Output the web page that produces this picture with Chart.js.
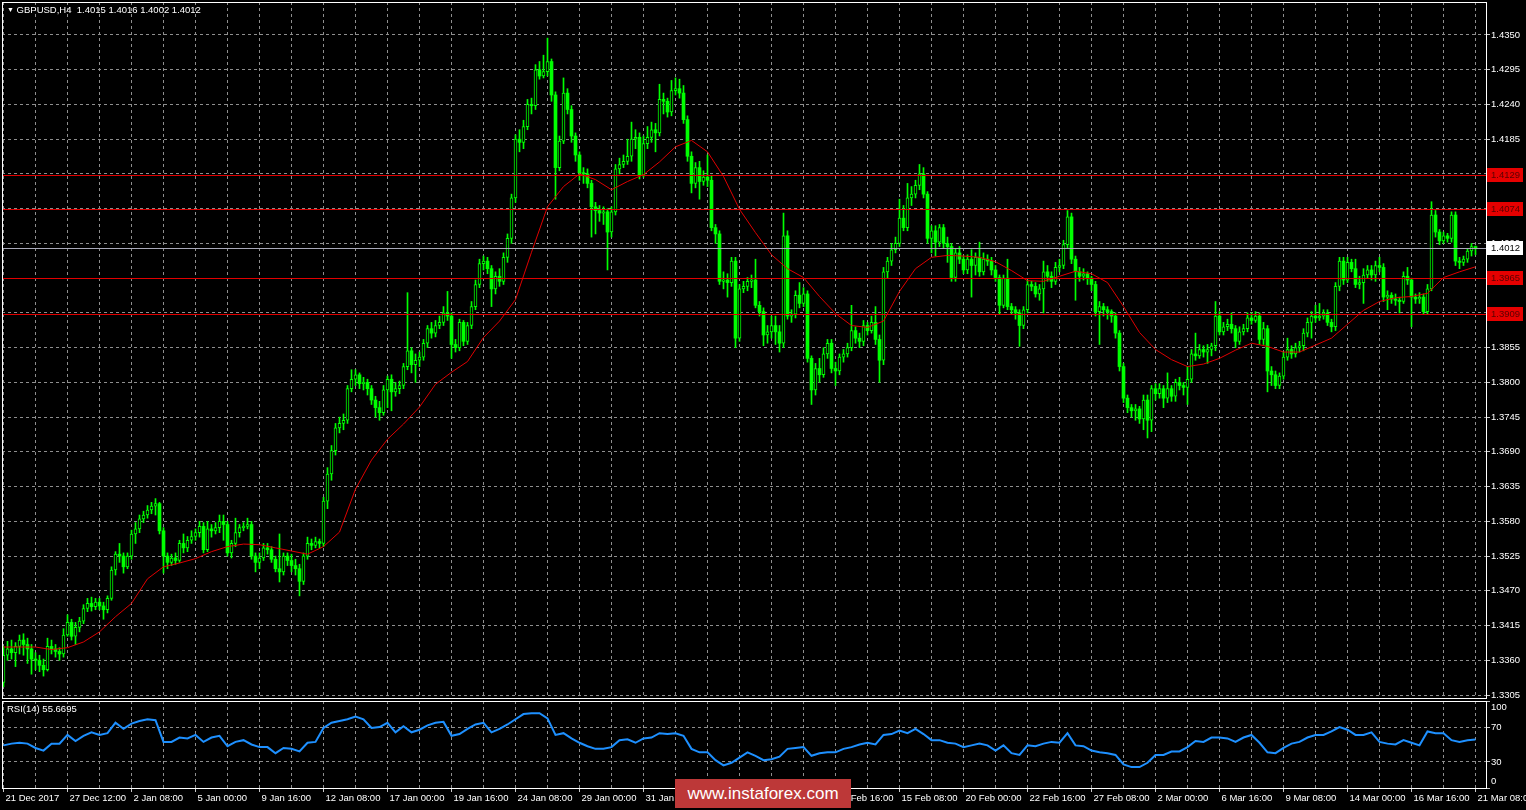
<!DOCTYPE html>
<html><head><meta charset="utf-8">
<script src="https://cdn.jsdelivr.net/npm/chart.js@4.4.1/dist/chart.umd.min.js"></script>
<style>
html,body{margin:0;padding:0;background:#000;width:1526px;height:810px;overflow:hidden;}
canvas{position:absolute;left:0;}
#main{top:0;}
#rsi{top:700px;}
.t{position:absolute;color:#fff;white-space:pre;}
#wm{position:absolute;left:675px;top:779px;width:176px;height:29px;background:#bd3838;color:#fff;font:17px "Liberation Sans",Arial,sans-serif;text-align:center;line-height:29px;}
</style></head><body>
<canvas id="main" width="1526" height="700"></canvas>
<canvas id="rsi" width="1526" height="110"></canvas>
<div class="t" id="title" style="left:7px;top:4px;"></div>
<div class="t" id="rsiTitle" style="left:7px;top:703px;"></div>
<div id="wm">www.instaforex.com</div>
<script>
// ---------- data ----------
const symbolTitle = "GBPUSD,H4";
const lastOHLC = [1.4015, 1.4016, 1.4002, 1.4012];
const rsiTitle = "RSI(14) 55.6695";
const timeLabels = ["21 Dec 2017","27 Dec 12:00","2 Jan 08:00","5 Jan 00:00","9 Jan 16:00","12 Jan 08:00","17 Jan 00:00","19 Jan 16:00","24 Jan 08:00","29 Jan 00:00","31 Jan 16:00","5 Feb 08:00","8 Feb 00:00","12 Feb 16:00","15 Feb 08:00","20 Feb 00:00","22 Feb 16:00","27 Feb 08:00","2 Mar 00:00","6 Mar 16:00","9 Mar 08:00","14 Mar 00:00","16 Mar 16:00","21 Mar 08:00"];
const priceTicks = [1.4350,1.4295,1.4240,1.4185,1.4130,1.4075,1.4020,1.3965,1.3910,1.3855,1.3800,1.3745,1.3690,1.3635,1.3580,1.3525,1.3470,1.3415,1.3360,1.3305];
const levels = [1.4129, 1.4074, 1.3965, 1.3909];
const currentPrice = 1.4012;
const rsiLevels = [0, 30, 70, 100];

const opens = [
1.3325,1.3368,1.3378,1.3372,1.3382,1.3392,1.3385,1.3378,1.3362,1.3360,1.3352,1.3345,1.3382,1.3378,1.3374,1.3370,
1.3400,1.3420,1.3398,1.3412,1.3422,1.3442,1.3450,1.3445,1.3452,1.3446,1.3440,1.3458,1.3503,1.3528,1.3525,1.3508,
1.3525,1.3560,1.3568,1.3584,1.3590,1.3598,1.3604,1.3608,1.3565,1.3525,1.3515,1.3522,1.3518,1.3545,1.3538,1.3550,
1.3556,1.3562,1.3572,1.3535,1.3568,1.3565,1.3570,1.3580,1.3575,1.3530,1.3545,1.3562,1.3570,1.3572,1.3575,1.3525,
1.3515,1.3522,1.3538,1.3535,1.3520,1.3505,1.3500,1.3525,1.3518,1.3510,1.3505,1.3485,1.3525,1.3545,1.3542,1.3548,
1.3545,1.3612,1.3655,1.3692,1.3728,1.3735,1.3740,1.3790,1.3805,1.3812,1.3798,1.3800,1.3790,1.3772,1.3760,1.3752,
1.3788,1.3805,1.3785,1.3790,1.3795,1.3825,1.3850,1.3828,1.3835,1.3840,1.3862,1.3885,1.3878,1.3890,1.3895,1.3910,
1.3905,1.3860,1.3855,1.3895,1.3865,1.3890,1.3920,1.3955,1.3988,1.3992,1.3980,1.3948,1.3968,1.3960,1.3998,1.4028,
1.4092,1.4185,1.4180,1.4205,1.4240,1.4238,1.4295,1.4285,1.4292,1.4308,1.4255,1.4140,1.4182,1.4258,1.4232,1.4190,
1.4160,1.4132,1.4130,1.4115,1.4078,1.4072,1.4068,1.4070,1.4038,1.4070,1.4138,1.4145,1.4150,1.4158,1.4185,1.4188,
1.4128,1.4178,1.4188,1.4200,1.4195,1.4248,1.4245,1.4228,1.4262,1.4265,1.4258,1.4216,1.4158,1.4115,1.4140,1.4118,
1.4125,1.4120,1.4045,1.4035,1.3960,1.3962,1.3958,1.3992,1.3870,1.3948,1.3952,1.3960,1.3962,1.3922,1.3912,1.3875,
1.3880,1.3890,1.3880,1.3862,1.4032,1.3905,1.3908,1.3938,1.3925,1.3940,1.3838,1.3788,1.3822,1.3812,1.3845,1.3862,
1.3822,1.3818,1.3840,1.3845,1.3855,1.3882,1.3870,1.3865,1.3890,1.3882,1.3895,1.3868,1.3835,1.3975,1.3992,1.4010,
1.4020,1.4060,1.4045,1.4092,1.4098,1.4112,1.4130,1.4098,1.4028,1.4040,1.4022,1.4045,1.4020,1.4015,1.3966,1.4005,
1.3995,1.3978,1.3995,1.3985,1.3998,1.3975,1.3995,1.3992,1.3978,1.3966,1.3922,1.3965,1.3920,1.3915,1.3910,1.3890,
1.3915,1.3955,1.3952,1.3940,1.3948,1.3975,1.3968,1.3960,1.3982,1.3985,1.4018,1.4062,1.3995,1.3975,1.3968,1.3972,
1.3965,1.3955,1.3912,1.3920,1.3915,1.3912,1.3905,1.3878,1.3825,1.3775,1.3760,1.3755,1.3758,1.3742,1.3772,1.3740,
1.3790,1.3782,1.3790,1.3775,1.3790,1.3778,1.3800,1.3795,1.3792,1.3805,1.3845,1.3842,1.3852,1.3848,1.3852,1.3858,
1.3905,1.3880,1.3888,1.3892,1.3885,1.3865,1.3880,1.3885,1.3902,1.3898,1.3905,1.3868,1.3885,1.3818,1.3812,1.3795,
1.3810,1.3840,1.3852,1.3845,1.3855,1.3858,1.3878,1.3895,1.3905,1.3902,1.3905,1.3910,1.3895,1.3888,1.3952,1.3992,
1.3962,1.3990,1.3980,1.3955,1.3958,1.3970,1.3978,1.3970,1.3985,1.3982,1.3935,1.3938,1.3932,1.3930,1.3928,1.3968,
1.3962,1.3935,1.3932,1.3935,1.3912,1.3948,1.4065,1.4038,1.4024,1.4032,1.4028,1.4065,1.3992,1.3990,1.3995,1.4008,
1.4015];
const highs = [
1.3382,1.3390,1.3392,1.3388,1.3400,1.3402,1.3395,1.3385,1.3372,1.3368,1.3362,1.3395,1.3392,1.3385,1.3380,1.3410,
1.3432,1.3425,1.3420,1.3428,1.3448,1.3458,1.3460,1.3458,1.3458,1.3452,1.3462,1.3508,1.3532,1.3545,1.3530,1.3530,
1.3566,1.3578,1.3590,1.3596,1.3605,1.3610,1.3616,1.3610,1.3570,1.3530,1.3528,1.3530,1.3550,1.3560,1.3556,1.3565,
1.3568,1.3580,1.3578,1.3580,1.3575,1.3578,1.3590,1.3590,1.3580,1.3550,1.3585,1.3575,1.3578,1.3585,1.3580,1.3530,
1.3530,1.3545,1.3545,1.3540,1.3525,1.3560,1.3530,1.3530,1.3528,1.3520,1.3512,1.3530,1.3555,1.3552,1.3555,1.3552,
1.3618,1.3665,1.3700,1.3735,1.3745,1.3750,1.3795,1.3820,1.3820,1.3815,1.3808,1.3805,1.3795,1.3778,1.3770,1.3795,
1.3810,1.3812,1.3800,1.3802,1.3830,1.3942,1.3855,1.3845,1.3848,1.3868,1.3890,1.3895,1.3898,1.3905,1.3920,1.3944,
1.3910,1.3868,1.3900,1.3898,1.3895,1.3928,1.3962,1.3995,1.4000,1.3998,1.3985,1.3975,1.3980,1.4005,1.4035,1.4098,
1.4192,1.4200,1.4215,1.4248,1.4250,1.4303,1.4308,1.4318,1.4345,1.4312,1.4260,1.4190,1.4282,1.4265,1.4238,1.4195,
1.4165,1.4140,1.4138,1.4120,1.4085,1.4080,1.4078,1.4075,1.4078,1.4145,1.4155,1.4160,1.4185,1.4212,1.4200,1.4195,
1.4190,1.4205,1.4212,1.4210,1.4272,1.4258,1.4250,1.4278,1.4282,1.4280,1.4270,1.4222,1.4165,1.4148,1.4150,1.4135,
1.4160,1.4128,1.4050,1.4040,1.3975,1.3972,1.3998,1.3998,1.3955,1.3960,1.3966,1.3970,1.3995,1.3928,1.3918,1.3890,
1.3905,1.3905,1.3890,1.4068,1.4040,1.3915,1.3945,1.3958,1.3950,1.3945,1.3842,1.3830,1.3838,1.3855,1.3868,1.3868,
1.3832,1.3845,1.3852,1.3862,1.3922,1.3888,1.3878,1.3898,1.3895,1.3905,1.3920,1.3875,1.3982,1.3998,1.4020,1.4030,
1.4090,1.4080,1.4115,1.4110,1.4120,1.4145,1.4140,1.4102,1.4048,1.4048,1.4050,1.4050,1.4030,1.4020,1.4012,1.4015,
1.4000,1.4002,1.4010,1.4005,1.4022,1.4005,1.4002,1.3998,1.3985,1.3970,1.3970,1.3995,1.3925,1.3920,1.3915,1.3920,
1.3962,1.3960,1.3958,1.3955,1.3992,1.3985,1.3975,1.3990,1.3995,1.4025,1.4072,1.4068,1.4000,1.3982,1.3980,1.3975,
1.3968,1.3960,1.3928,1.3925,1.3920,1.3915,1.3910,1.3882,1.3830,1.3780,1.3765,1.3765,1.3762,1.3780,1.3780,1.3795,
1.3798,1.3798,1.3795,1.3815,1.3795,1.3805,1.3808,1.3800,1.3825,1.3852,1.3878,1.3860,1.3858,1.3860,1.3862,1.3928,
1.3912,1.3895,1.3900,1.3910,1.3890,1.3888,1.3892,1.3910,1.3910,1.3912,1.3910,1.3895,1.3890,1.3825,1.3818,1.3815,
1.3848,1.3870,1.3858,1.3862,1.3865,1.3885,1.3902,1.3912,1.3922,1.3925,1.3915,1.3915,1.3900,1.3958,1.3998,1.3998,
1.3998,1.3995,1.3995,1.3968,1.3980,1.3985,1.3985,1.3992,1.3998,1.3988,1.3945,1.3942,1.3940,1.3935,1.3975,1.3982,
1.3965,1.3940,1.3942,1.3940,1.3955,1.4086,1.4072,1.4042,1.4038,1.4036,1.4070,1.4070,1.3998,1.4000,1.4012,1.4020,
1.4016];
const lows = [
1.3318,1.3360,1.3362,1.3350,1.3370,1.3368,1.3355,1.3338,1.3345,1.3342,1.3335,1.3343,1.3370,1.3365,1.3360,1.3365,
1.3398,1.3392,1.3385,1.3405,1.3418,1.3437,1.3438,1.3440,1.3440,1.3425,1.3435,1.3455,1.3495,1.3515,1.3498,1.3505,
1.3520,1.3545,1.3562,1.3578,1.3585,1.3592,1.3590,1.3560,1.3498,1.3505,1.3510,1.3512,1.3515,1.3530,1.3532,1.3545,
1.3550,1.3555,1.3530,1.3532,1.3555,1.3560,1.3562,1.3550,1.3525,1.3522,1.3540,1.3555,1.3565,1.3568,1.3520,1.3500,
1.3505,1.3518,1.3528,1.3515,1.3500,1.3484,1.3495,1.3510,1.3500,1.3495,1.3462,1.3480,1.3520,1.3535,1.3538,1.3538,
1.3540,1.3600,1.3645,1.3685,1.3720,1.3725,1.3735,1.3785,1.3795,1.3790,1.3788,1.3780,1.3765,1.3745,1.3740,1.3748,
1.3760,1.3755,1.3778,1.3782,1.3790,1.3820,1.3815,1.3800,1.3825,1.3835,1.3855,1.3870,1.3872,1.3885,1.3890,1.3898,
1.3838,1.3848,1.3850,1.3858,1.3860,1.3885,1.3915,1.3950,1.3978,1.3972,1.3920,1.3940,1.3952,1.3955,1.3990,1.4020,
1.4085,1.4165,1.4170,1.4200,1.4225,1.4232,1.4280,1.4282,1.4285,1.4245,1.4090,1.4135,1.4178,1.4225,1.4180,1.4150,
1.4120,1.4115,1.4108,1.4030,1.4035,1.4055,1.4050,1.3978,1.4030,1.4065,1.4130,1.4140,1.4145,1.4150,1.4170,1.4122,
1.4125,1.4170,1.4180,1.4165,1.4190,1.4225,1.4220,1.4222,1.4255,1.4250,1.4210,1.4150,1.4100,1.4108,1.4090,1.4112,
1.4110,1.4040,1.4020,1.3955,1.3948,1.3935,1.3952,1.3855,1.3865,1.3942,1.3945,1.3950,1.3918,1.3905,1.3858,1.3862,
1.3870,1.3860,1.3848,1.3855,1.3900,1.3895,1.3902,1.3918,1.3920,1.3832,1.3765,1.3780,1.3800,1.3808,1.3838,1.3815,
1.3795,1.3812,1.3832,1.3840,1.3850,1.3862,1.3855,1.3858,1.3875,1.3878,1.3860,1.3800,1.3828,1.3965,1.3985,1.4005,
1.4015,1.4040,1.4040,1.4080,1.4092,1.4105,1.4092,1.4020,1.4005,1.4000,1.4015,1.4012,1.3990,1.3960,1.3960,1.3988,
1.3972,1.3972,1.3935,1.3970,1.3968,1.3970,1.3985,1.3970,1.3960,1.3908,1.3918,1.3915,1.3908,1.3900,1.3857,1.3885,
1.3910,1.3945,1.3935,1.3930,1.3910,1.3960,1.3950,1.3955,1.3975,1.3980,1.4012,1.3988,1.3930,1.3960,1.3962,1.3955,
1.3945,1.3905,1.3860,1.3905,1.3900,1.3895,1.3870,1.3818,1.3768,1.3752,1.3745,1.3740,1.3735,1.3725,1.3712,1.3722,
1.3772,1.3775,1.3760,1.3768,1.3770,1.3770,1.3788,1.3780,1.3765,1.3800,1.3835,1.3838,1.3840,1.3830,1.3842,1.3850,
1.3875,1.3875,1.3882,1.3878,1.3855,1.3860,1.3875,1.3880,1.3892,1.3895,1.3860,1.3860,1.3785,1.3795,1.3790,1.3790,
1.3805,1.3835,1.3838,1.3840,1.3848,1.3850,1.3872,1.3870,1.3895,1.3898,1.3900,1.3890,1.3880,1.3882,1.3945,1.3955,
1.3958,1.3975,1.3950,1.3948,1.3925,1.3965,1.3962,1.3960,1.3975,1.3928,1.3915,1.3925,1.3922,1.3910,1.3925,1.3955,
1.3888,1.3925,1.3925,1.3908,1.3908,1.3945,1.4030,1.4018,1.4020,1.4022,1.4022,1.3985,1.3980,1.3985,1.3990,1.4000,
1.4002];
const closes = [
1.3368,1.3378,1.3372,1.3382,1.3392,1.3385,1.3378,1.3362,1.3360,1.3352,1.3345,1.3382,1.3378,1.3374,1.3370,1.3400,
1.3420,1.3398,1.3412,1.3422,1.3442,1.3450,1.3445,1.3452,1.3446,1.3440,1.3458,1.3503,1.3528,1.3525,1.3508,1.3525,
1.3560,1.3568,1.3584,1.3590,1.3598,1.3604,1.3608,1.3565,1.3525,1.3515,1.3522,1.3518,1.3545,1.3538,1.3550,1.3556,
1.3562,1.3572,1.3535,1.3568,1.3565,1.3570,1.3580,1.3575,1.3530,1.3545,1.3562,1.3570,1.3572,1.3575,1.3525,1.3515,
1.3522,1.3538,1.3535,1.3520,1.3505,1.3500,1.3525,1.3518,1.3510,1.3505,1.3485,1.3525,1.3545,1.3542,1.3548,1.3545,
1.3612,1.3655,1.3692,1.3728,1.3735,1.3740,1.3790,1.3805,1.3812,1.3798,1.3800,1.3790,1.3772,1.3760,1.3752,1.3788,
1.3805,1.3785,1.3790,1.3795,1.3825,1.3850,1.3828,1.3835,1.3840,1.3862,1.3885,1.3878,1.3890,1.3895,1.3910,1.3905,
1.3860,1.3855,1.3895,1.3865,1.3890,1.3920,1.3955,1.3988,1.3992,1.3980,1.3948,1.3968,1.3960,1.3998,1.4028,1.4092,
1.4185,1.4180,1.4205,1.4240,1.4238,1.4295,1.4285,1.4292,1.4308,1.4255,1.4140,1.4182,1.4258,1.4232,1.4190,1.4160,
1.4132,1.4130,1.4115,1.4078,1.4072,1.4068,1.4070,1.4038,1.4070,1.4138,1.4145,1.4150,1.4158,1.4185,1.4188,1.4128,
1.4178,1.4188,1.4200,1.4195,1.4248,1.4245,1.4228,1.4262,1.4265,1.4258,1.4216,1.4158,1.4115,1.4140,1.4118,1.4125,
1.4120,1.4045,1.4035,1.3960,1.3962,1.3958,1.3992,1.3870,1.3948,1.3952,1.3960,1.3962,1.3922,1.3912,1.3875,1.3880,
1.3890,1.3880,1.3862,1.4032,1.3905,1.3908,1.3938,1.3925,1.3940,1.3838,1.3788,1.3822,1.3812,1.3845,1.3862,1.3822,
1.3818,1.3840,1.3845,1.3855,1.3882,1.3870,1.3865,1.3890,1.3882,1.3895,1.3868,1.3835,1.3975,1.3992,1.4010,1.4020,
1.4060,1.4045,1.4092,1.4098,1.4112,1.4130,1.4098,1.4028,1.4040,1.4022,1.4045,1.4020,1.4015,1.3966,1.4005,1.3995,
1.3978,1.3995,1.3985,1.3998,1.3975,1.3995,1.3992,1.3978,1.3966,1.3922,1.3965,1.3920,1.3915,1.3910,1.3890,1.3915,
1.3955,1.3952,1.3940,1.3948,1.3975,1.3968,1.3960,1.3982,1.3985,1.4018,1.4062,1.3995,1.3975,1.3968,1.3972,1.3965,
1.3955,1.3912,1.3920,1.3915,1.3912,1.3905,1.3878,1.3825,1.3775,1.3760,1.3755,1.3758,1.3742,1.3772,1.3740,1.3790,
1.3782,1.3790,1.3775,1.3790,1.3778,1.3800,1.3795,1.3792,1.3805,1.3845,1.3842,1.3852,1.3848,1.3852,1.3858,1.3905,
1.3880,1.3888,1.3892,1.3885,1.3865,1.3880,1.3885,1.3902,1.3898,1.3905,1.3868,1.3885,1.3818,1.3812,1.3795,1.3810,
1.3840,1.3852,1.3845,1.3855,1.3858,1.3878,1.3895,1.3905,1.3902,1.3905,1.3910,1.3895,1.3888,1.3952,1.3992,1.3962,
1.3990,1.3980,1.3955,1.3958,1.3970,1.3978,1.3970,1.3985,1.3982,1.3935,1.3938,1.3932,1.3930,1.3928,1.3968,1.3962,
1.3935,1.3932,1.3935,1.3912,1.3948,1.4065,1.4038,1.4024,1.4032,1.4028,1.4065,1.3992,1.3990,1.3995,1.4008,1.4015,
1.4012];
// moving average, read every 4 bars
const maValues = [
1.3381,1.3381,1.3381,1.3377,1.3380,1.3389,1.3405,1.3429,1.3450,1.3489,1.3508,1.3514,1.3521,1.3532,1.3540,1.3544,
1.3543,1.3538,1.3533,1.3528,1.3540,1.3563,1.3631,1.3677,1.3710,1.3734,1.3761,1.3797,1.3816,1.3833,1.3871,1.3897,
1.3931,1.4006,1.4078,1.4110,1.4130,1.4121,1.4105,1.4118,1.4129,1.4149,1.4173,1.4183,1.4165,1.4126,1.4074,1.4037,
1.4002,1.3980,1.3966,1.3936,1.3909,1.3890,1.3887,1.3897,1.3944,1.3980,1.3998,1.4001,1.4000,1.3998,1.3991,1.3977,
1.3961,1.3960,1.3968,1.3976,1.3972,1.3958,1.3920,1.3879,1.3852,1.3836,1.3825,1.3829,1.3838,1.3851,1.3862,1.3857,
1.3848,1.3848,1.3859,1.3870,1.3892,1.3914,1.3928,1.3934,1.3936,1.3941,1.3966,1.3975,1.3983];
const maStep = 4;
// RSI(14), read every 2 bars
const rsiValues = [
49,51,52,51,46,43,51,51,61,54,60,64,61,63,75,68,74,77,79,78,53,53,58,57,61,53,58,60,48,53,55,50,
47,47,40,46,45,42,52,53,69,75,77,79,82,79,69,70,75,64,71,64,67,72,75,76,60,62,68,73,75,64,68,73,
79,85,86,86,80,61,63,57,52,48,45,45,47,55,56,52,57,58,63,62,63,60,45,41,41,32,26,29,35,41,37,32,
33,36,45,46,47,37,40,41,41,45,47,50,52,50,61,62,66,63,68,62,55,55,52,51,47,49,51,49,43,49,40,38,
49,48,51,53,52,63,49,48,43,41,40,38,27,24,24,29,38,38,42,42,47,54,53,58,58,57,53,58,61,52,41,40,
46,51,53,58,61,61,65,70,67,61,61,64,53,51,50,55,52,49,65,63,63,55,53,55,55.67];
const rsiStep = 2;

// ---------- styles / layout ----------
const GRID = '#8e8e8e';
const GREEN = '#00ff00';
const FAMILY = '"Liberation Sans", Arial, sans-serif';
const FSIZE = 9.5;
const FONT = {family: FAMILY, size: FSIZE};
const CSSFONT = FSIZE + 'px ' + FAMILY;
const xMin = -0.375, xMax = 370.625;
const yMin = 1.33003, yMax = 1.44022;
const gridStep = 8, labelStep = 16;

['title', 'rsiTitle'].forEach(id => { document.getElementById(id).style.font = CSSFONT; });
document.getElementById('title').innerHTML = '<span style="font-size:7px;vertical-align:1px">&#9660;</span> ' + symbolTitle + '  ' + lastOHLC.map(v => v.toFixed(4)).join(' ');
document.getElementById('rsiTitle').textContent = rsiTitle;

const bars = closes.map((c, i) => i);
const wickData = bars.map(i => ({x: i, y: [lows[i], highs[i]]}));
const bodyData = bars.map(i => ({x: i, y: [opens[i], closes[i]]}));
const maData = maValues.map((v, k) => ({x: k * maStep, y: v}));
const rsiData = rsiValues.map((v, k) => ({x: k * rsiStep, y: v}));
const isBull = i => closes[i] >= opens[i];

function xTicks(s) {
  const t = [];
  for (let v = 0; v <= closes.length - 1; v += gridStep) t.push({value: v});
  s.ticks = t;
}
function noPad(s) { s.paddingLeft = 0; s.paddingRight = 0; s.paddingTop = 0; s.paddingBottom = 0; }

const framePlugin = {
  id: 'frame',
  afterDraw(chart) {
    const {ctx, chartArea: a} = chart;
    ctx.save();
    ctx.strokeStyle = '#ffffff';
    ctx.lineWidth = 1;
    ctx.strokeRect(a.left + 0.5, a.top + 0.5, a.right - a.left, a.bottom - a.top);
    ctx.restore();
  }
};

const levelPlugin = {
  id: 'levels',
  afterDatasetsDraw(chart) {
    const {ctx, chartArea: a} = chart;
    const ys = chart.scales.y;
    ctx.save();
    ctx.lineWidth = 1;
    levels.forEach(v => {
      const y = Math.round(ys.getPixelForValue(v)) + 0.5;
      ctx.strokeStyle = '#e00000';
      ctx.beginPath(); ctx.moveTo(a.left, y); ctx.lineTo(a.right, y); ctx.stroke();
    });
    const yc = Math.round(ys.getPixelForValue(currentPrice)) + 0.5;
    ctx.strokeStyle = '#a9a9b8';
    ctx.beginPath(); ctx.moveTo(a.left, yc); ctx.lineTo(a.right, yc); ctx.stroke();
    ctx.restore();
  },
  afterDraw(chart) {
    const {ctx, chartArea: a} = chart;
    const ys = chart.scales.y;
    ctx.save();
    ctx.font = CSSFONT;
    ctx.textBaseline = 'middle';
    ctx.textAlign = 'left';
    levels.forEach(v => {
      const y = Math.round(ys.getPixelForValue(v));
      ctx.fillStyle = '#e60000';
      ctx.fillRect(a.right + 1, y - 7, 36, 14);
      ctx.fillStyle = '#5a0000';
      ctx.fillText(v.toFixed(4), a.right + 5, y + 0.5);
    });
    const yc = Math.round(ys.getPixelForValue(currentPrice));
    ctx.fillStyle = '#ffffff';
    ctx.fillRect(a.right + 1, yc - 7, 36, 14);
    ctx.fillStyle = '#000000';
    ctx.fillText(currentPrice.toFixed(4), a.right + 5, yc + 0.5);
    ctx.restore();
  }
};

new Chart(document.getElementById('main'), {
  type: 'bar',
  data: {
    datasets: [
      {type: 'line', data: maData, borderColor: '#e00000', borderWidth: 1, pointRadius: 0, tension: 0, order: -1},
      {data: bodyData, grouped: false, barThickness: 3, minBarLength: 1, borderSkipped: false,
       borderColor: GREEN,
       borderWidth: ctx => isBull(ctx.dataIndex) ? 1 : 0,
       backgroundColor: ctx => isBull(ctx.dataIndex) ? '#000000' : GREEN, order: 0},
      {data: wickData, grouped: false, barThickness: 1, backgroundColor: GREEN, borderWidth: 0, order: 1}
    ]
  },
  options: {
    responsive: false, animation: false, devicePixelRatio: 1,
    layout: {padding: {left: 2, top: 2, right: 0, bottom: 2}},
    plugins: {legend: {display: false}, tooltip: {enabled: false}},
    scales: {
      x: {type: 'linear', min: xMin, max: xMax, offset: false,
          afterBuildTicks: xTicks, afterFit: s => { s.height = 0; noPad(s); },
          grid: {color: GRID, drawTicks: false, offset: false},
          border: {display: false, dash: [3, 3]},
          ticks: {display: false}},
      y: {position: 'right', min: yMin, max: yMax,
          afterBuildTicks: s => { s.ticks = priceTicks.map(v => ({value: v})); },
          afterFit: s => { s.width = 40; noPad(s); },
          grid: {color: GRID, drawTicks: true, tickLength: 4, tickColor: '#c8c8c8', tickBorderDash: []},
          border: {display: false, dash: [3, 3]},
          ticks: {color: '#ffffff', font: FONT, padding: 1, callback: v => Number(v).toFixed(4)}}
    }
  },
  plugins: [levelPlugin, framePlugin]
});

const rsiLabelPlugin = {
  id: 'rsiLabels',
  afterDraw(chart) {
    const {ctx, chartArea: a} = chart;
    const ys = chart.scales.y;
    ctx.save();
    ctx.font = CSSFONT;
    ctx.fillStyle = '#ffffff';
    ctx.textAlign = 'left';
    ctx.textBaseline = 'middle';
    rsiLevels.forEach(v => {
      let y = ys.getPixelForValue(v);
      if (v === 100) y += 6;
      if (v === 0) y -= 7;
      ctx.fillText(String(v), a.right + 5, y);
    });
    ctx.restore();
  }
};

new Chart(document.getElementById('rsi'), {
  type: 'line',
  data: {datasets: [{data: rsiData, borderColor: '#1e90ff', borderWidth: 2, pointRadius: 0, tension: 0}]},
  options: {
    responsive: false, animation: false, devicePixelRatio: 1,
    layout: {padding: {left: 2, top: 1, right: 0, bottom: 0}},
    plugins: {legend: {display: false}, tooltip: {enabled: false}},
    scales: {
      x: {type: 'linear', min: xMin, max: xMax, offset: false,
          afterBuildTicks: xTicks, afterFit: s => { s.height = 22; noPad(s); },
          grid: {color: GRID, drawTicks: true, tickLength: 4, offset: false, tickBorderDash: [],
                 tickColor: c => (c.tick && c.tick.value % labelStep === 0) ? '#c8c8c8' : 'rgba(0,0,0,0)'},
          border: {display: false, dash: [3, 3]},
          ticks: {autoSkip: false, maxRotation: 0, minRotation: 0, align: 'start', labelOffset: 2, padding: 1,
                  color: '#ffffff', font: FONT,
                  callback: v => (v % labelStep === 0) ? timeLabels[v / labelStep] : ''}},
      y: {position: 'right', min: 0, max: 100,
          afterBuildTicks: s => { s.ticks = rsiLevels.map(v => ({value: v})); },
          afterFit: s => { s.width = 40; noPad(s); },
          grid: {color: c => (c.tick && (c.tick.value === 30 || c.tick.value === 70)) ? GRID : 'rgba(0,0,0,0)',
                 drawTicks: true, tickLength: 4, tickColor: '#c8c8c8', tickBorderDash: []},
          border: {display: false, dash: [3, 3]},
          ticks: {display: false}}
    }
  },
  plugins: [rsiLabelPlugin, framePlugin]
});
</script>
</body></html>
